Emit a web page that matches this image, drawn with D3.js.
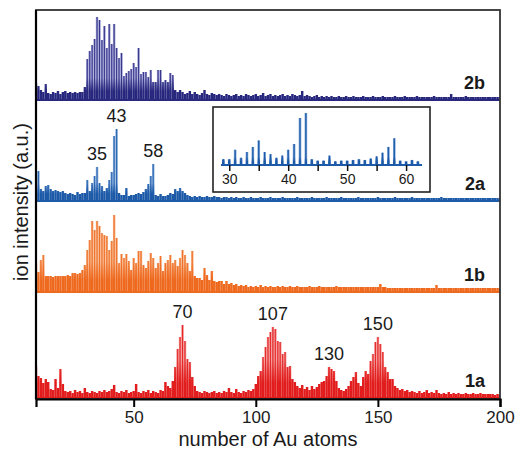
<!DOCTYPE html>
<html>
<head>
<meta charset="utf-8">
<script src="https://cdn.jsdelivr.net/npm/d3@7"></script>
<style>
  body { margin: 0; background: #fff; }
  svg { display: block; }
  text { font-family: "Liberation Sans", Arial, Helvetica, sans-serif; fill: #1a1a1a; }
</style>
</head>
<body>
<div id="chart"></div>
<script>
// cluster sizes run from N_START to N_END, one value per cluster size
const N_START = 10;
const N_END = 200;

const series2b = [
  17, 14, 10, 8, 16, 7, 6, 8, 7, 9,
  6, 8, 9, 7, 8, 7, 8, 7, 8, 8,
  13, 41, 49, 55, 61, 83, 80, 60, 74, 52,
  76, 56, 76, 52, 42, 47, 24, 27, 29, 31,
  37, 33, 52, 26, 28, 28, 23, 30, 18, 18,
  30, 30, 18, 20, 18, 27, 25, 10, 8, 10,
  8, 6, 7, 9, 6, 8, 6, 5, 7, 10,
  6, 5, 7, 6, 5, 6, 5, 4, 6, 5,
  4, 5, 6, 4, 5, 4, 6, 5, 4, 5,
  6, 4, 5, 7, 4, 5, 6, 4, 5, 4,
  5, 6, 4, 5, 4, 6, 5, 4, 5, 9,
  4, 5, 4, 3, 4, 5, 3, 4, 3, 4,
  3, 4, 3, 3, 4, 3, 3, 4, 3, 3,
  4, 3, 3, 3, 4, 3, 3, 3, 4, 3,
  3, 3, 4, 3, 3, 3, 3, 4, 3, 3,
  3, 4, 3, 3, 3, 3, 4, 3, 3, 3,
  3, 3, 3, 4, 3, 3, 3, 3, 3, 3,
  6, 3, 3, 3, 3, 3, 4, 3, 3, 3,
  3, 3, 3, 3, 3, 3, 3, 3, 3, 3,
  3
];

const series2a = [
  30, 30, 12, 10, 15, 16, 12, 10, 11, 10,
  9, 10, 8, 7, 8, 7, 6, 9, 7, 8,
  8, 21, 10, 18, 25, 34, 18, 15, 10, 13,
  21, 29, 65, 72, 8, 6, 6, 13, 5, 6,
  6, 7, 8, 7, 9, 12, 17, 25, 37, 6,
  5, 7, 5, 5, 6, 8, 7, 12, 10, 13,
  10, 8, 6, 5, 4, 5, 4, 5, 4, 4,
  5, 4, 4, 5, 4, 4, 3, 4, 4, 3,
  4, 3, 4, 3, 3, 4, 3, 3, 4, 3,
  3, 3, 4, 3, 3, 3, 4, 3, 3, 3,
  3, 4, 3, 3, 3, 3, 3, 4, 3, 3,
  3, 3, 3, 4, 3, 3, 3, 3, 3, 4,
  3, 3, 3, 3, 3, 4, 3, 3, 3, 3,
  3, 3, 4, 3, 3, 3, 3, 3, 3, 3,
  4, 3, 3, 3, 3, 3, 3, 4, 3, 3,
  3, 3, 3, 3, 4, 3, 3, 3, 3, 3,
  3, 3, 3, 3, 3, 3, 4, 3, 3, 3,
  3, 3, 3, 3, 3, 3, 3, 3, 3, 3,
  3, 3, 3, 3, 3, 3, 3, 3, 3, 3,
  3
];

const series1b = [
  29, 20, 32, 37, 16, 16, 16, 15, 16, 16,
  16, 16, 16, 17, 16, 19, 19, 18, 19, 22,
  27, 42, 52, 71, 62, 71, 66, 59, 57, 56,
  42, 51, 77, 54, 29, 38, 34, 38, 31, 22,
  34, 29, 41, 41, 27, 24, 31, 39, 34, 24,
  29, 36, 21, 29, 32, 37, 29, 32, 26, 34,
  42, 37, 29, 21, 41, 16, 14, 14, 12, 24,
  17, 12, 21, 11, 10, 11, 11, 8, 11, 8,
  9, 7, 8, 6, 7, 6, 7, 5, 6, 5,
  6, 5, 7, 5, 6, 5, 6, 5, 5, 6,
  5, 6, 5, 5, 6, 5, 5, 6, 5, 5,
  5, 5, 6, 5, 5, 5, 6, 5, 5, 5,
  5, 5, 5, 6, 5, 5, 5, 5, 5, 5,
  5, 5, 5, 5, 5, 5, 5, 5, 5, 5,
  5, 8, 5, 5, 4, 4, 4, 4, 4, 4,
  4, 4, 4, 4, 4, 4, 4, 4, 4, 4,
  4, 4, 4, 4, 7, 4, 4, 4, 4, 4,
  4, 4, 4, 4, 4, 4, 4, 4, 4, 4,
  4, 4, 4, 4, 4, 4, 4, 4, 4, 4,
  4
];

const series1a = [
  32, 22, 20, 15, 19, 16, 9, 8, 19, 10,
  29, 14, 7, 6, 7, 5, 8, 6, 7, 5,
  10, 6, 5, 7, 6, 5, 7, 6, 8, 6,
  7, 9, 13, 6, 5, 7, 6, 8, 5, 6,
  7, 14, 6, 5, 7, 6, 8, 5, 7, 6,
  5, 8, 7, 16, 12, 10, 17, 31, 49, 61,
  73, 57, 39, 36, 21, 12, 7, 6, 5, 7,
  6, 5, 6, 7, 5, 6, 5, 7, 6, 10,
  6, 5, 9, 6, 5, 7, 6, 8, 7, 9,
  14, 22, 27, 41, 51, 61, 66, 71, 69, 57,
  56, 44, 46, 31, 32, 19, 16, 12, 10, 13,
  9, 11, 8, 12, 9, 11, 14, 16, 17, 22,
  31, 29, 27, 17, 10, 8, 7, 9, 12, 17,
  21, 26, 15, 12, 21, 27, 24, 37, 44, 56,
  61, 54, 46, 31, 26, 19, 19, 12, 10, 8,
  9, 7, 8, 6, 7, 6, 5, 7, 5, 6,
  8, 5, 6, 5, 8, 5, 4, 5, 4, 6,
  4, 5, 4, 5, 4, 4, 5, 4, 4, 5,
  4, 4, 5, 4, 4, 4, 4, 4, 3, 4,
  3
];

const xTicks = [50, 100, 150, 200];
const insetTicks = [30, 35, 40, 45, 50, 55, 60];
const insetTickLabels = [30, 40, 50, 60];
const insetRange = [28.6, 62.7];
const peaks2a = [35, 43, 58];
const peaks1a = [70, 107, 130, 150];

const W = 516, H = 449;
const PLOT = { left: 36, right: 500, top: 10, bottom: 399 };

// fade: height (px) over which bar fill goes from dark to light
const PANELS = [
  { name: '2b', data: series2b, dark: '#28287f', light: '#9a9ad2', base: 100, fade: 22 },
  { name: '2a', data: series2a, dark: '#1d5aa8', light: '#86acdc', base: 201, fade: 18, peaks: peaks2a },
  { name: '1b', data: series1b, dark: '#ee6a1f', light: '#f6ad7e', base: 292, fade: 30 },
  { name: '1a', data: series1a, dark: '#e21d1d', light: '#f28585', base: 398, fade: 38, peaks: peaks1a }
];

const svg = d3.select('#chart').append('svg')
  .attr('width', W)
  .attr('height', H);
const defs = svg.append('defs');

const x = d3.scaleLinear().domain([N_START, N_END]).range([PLOT.left, PLOT.right]);

defs.append('clipPath').attr('id', 'plot-clip')
  .append('rect')
  .attr('x', PLOT.left).attr('y', PLOT.top)
  .attr('width', PLOT.right - PLOT.left).attr('height', PLOT.bottom - PLOT.top);

function makeGradient(id, p, base, fade) {
  const grad = defs.append('linearGradient')
    .attr('id', id)
    .attr('gradientUnits', 'userSpaceOnUse')
    .attr('x1', 0).attr('x2', 0)
    .attr('y1', base).attr('y2', base - fade);
  grad.append('stop').attr('offset', 0).attr('stop-color', p.dark);
  grad.append('stop').attr('offset', 0.4).attr('stop-color', p.dark);
  grad.append('stop').attr('offset', 1).attr('stop-color', p.light);
  return `url(#${id})`;
}

function drawSpectrum(g, p, xs, ys, opts) {
  const pts = p.data.map((v, i) => ({ n: N_START + i, v }))
    .filter(d => d.n >= opts.nMin && d.n <= opts.nMax);
  const fill = makeGradient(opts.gradId, p, ys(0), opts.fade);
  g.selectAll(null)
    .data(pts)
    .join('rect')
    .attr('x', d => xs(d.n - opts.barW / 2))
    .attr('width', d => xs(d.n + opts.barW / 2) - xs(d.n - opts.barW / 2))
    .attr('y', d => ys(d.v))
    .attr('height', d => ys(0) - ys(d.v))
    .attr('fill', fill);
  g.selectAll(null)
    .data(pts)
    .join('line')
    .attr('x1', d => xs(d.n)).attr('x2', d => xs(d.n))
    .attr('y1', ys(0)).attr('y2', d => ys(d.v))
    .attr('stroke', p.dark)
    .attr('stroke-width', opts.lineW);
  g.append('line')
    .attr('x1', xs(opts.nMin - 1)).attr('x2', xs(opts.nMax + 1))
    .attr('y1', ys(0)).attr('y2', ys(0))
    .attr('stroke', p.dark)
    .attr('stroke-width', 1.8);
}

const plotG = svg.append('g').attr('clip-path', 'url(#plot-clip)');

PANELS.forEach(p => {
  const y = d3.scaleLinear().domain([0, 100]).range([p.base, p.base - 100]);
  p.y = y;
  drawSpectrum(plotG.append('g'), p, x, y, {
    nMin: N_START, nMax: N_END, barW: 1, lineW: 0.9, fade: p.fade, gradId: 'grad-' + p.name
  });
});

// series names on the right
PANELS.forEach(p => {
  svg.append('text')
    .attr('x', 485)
    .attr('y', p.base - 11)
    .attr('text-anchor', 'end')
    .attr('font-size', '18px')
    .attr('font-weight', 'bold')
    .text(p.name);
});

// peak labels
PANELS.filter(p => p.peaks).forEach(p => {
  p.peaks.forEach(n => {
    const v = p.data[n - N_START];
    svg.append('text')
      .attr('x', x(n))
      .attr('y', p.y(v) - 7)
      .attr('text-anchor', 'middle')
      .attr('font-size', '18px')
      .text(n);
  });
});

// inset: zoom of 2a
const inset = { left: 213, right: 430, top: 107, bottom: 192, base: 165 };
const insetG = svg.append('g');
insetG.append('rect')
  .attr('x', inset.left).attr('y', inset.top)
  .attr('width', inset.right - inset.left).attr('height', inset.bottom - inset.top)
  .attr('fill', '#fff')
  .attr('stroke', '#222')
  .attr('stroke-width', 1.6);
const xi = d3.scaleLinear().domain(insetRange).range([inset.left + 8, inset.right - 8]);
const yi = d3.scaleLinear().domain([0, 72]).range([inset.base, inset.base - 52]);
defs.append('clipPath').attr('id', 'inset-clip')
  .append('rect')
  .attr('x', xi(insetRange[0])).attr('y', inset.top)
  .attr('width', xi(insetRange[1]) - xi(insetRange[0])).attr('height', inset.base - inset.top + 2);
const insetPlot = insetG.append('g').attr('clip-path', 'url(#inset-clip)');
drawSpectrum(insetPlot, PANELS[1], xi, yi, {
  nMin: 28, nMax: 63, barW: 0.45, lineW: 1.3, fade: 8, gradId: 'grad-inset'
});

const insetAxis = d3.axisBottom(xi)
  .tickValues(insetTicks)
  .tickSize(6)
  .tickFormat(d => insetTickLabels.includes(d) ? d : '');
const ia = insetG.append('g')
  .attr('transform', `translate(0,${inset.base})`)
  .call(insetAxis);
ia.select('.domain').remove();
ia.selectAll('line').attr('stroke', '#111').attr('stroke-width', 1.5);
ia.selectAll('text').attr('font-size', '14px').attr('fill', '#1a1a1a')
  .attr('y', 9);

// frame
svg.append('rect')
  .attr('x', PLOT.left).attr('y', PLOT.top)
  .attr('width', PLOT.right - PLOT.left).attr('height', PLOT.bottom - PLOT.top)
  .attr('fill', 'none')
  .attr('stroke', '#333')
  .attr('stroke-width', 1.8);
svg.append('line')
  .attr('x1', PLOT.left).attr('x2', PLOT.left)
  .attr('y1', PLOT.top).attr('y2', PLOT.bottom)
  .attr('stroke', '#000').attr('stroke-width', 2.2);

// x axis
const xAxis = d3.axisBottom(x).tickValues(xTicks).tickSize(8).tickPadding(4);
const xg = svg.append('g')
  .attr('transform', `translate(0,${PLOT.bottom})`)
  .call(xAxis);
xg.select('.domain').attr('stroke', '#000').attr('stroke-width', 2.2);
xg.selectAll('line').attr('stroke', '#000').attr('stroke-width', 2);
xg.selectAll('text').attr('font-size', '17px').attr('fill', '#1a1a1a');

svg.append('text')
  .attr('x', 268)
  .attr('y', 446)
  .attr('text-anchor', 'middle')
  .attr('font-size', '20px')
  .text('number of Au atoms');

svg.append('text')
  .attr('transform', 'translate(28,202) rotate(-90)')
  .attr('text-anchor', 'middle')
  .attr('font-size', '20px')
  .text('ion intensity (a.u.)');
</script>
</body>
</html>
